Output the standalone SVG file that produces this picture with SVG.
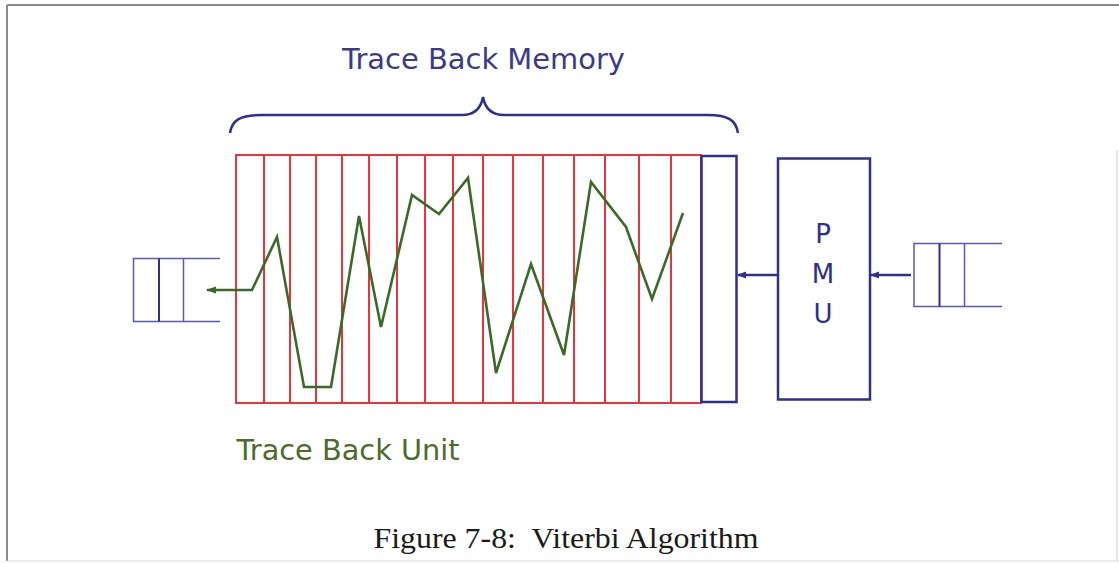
<svg xmlns="http://www.w3.org/2000/svg" width="1119" height="563" viewBox="0 0 1119 563">
  <defs>
    <marker id="ah-blue" markerWidth="9" markerHeight="8" refX="8" refY="4" orient="auto" markerUnits="userSpaceOnUse">
      <path d="M0,0.5 L9,4 L0,7.5 Z" fill="#2f2f8f"/>
    </marker>
    <marker id="ah-green" markerWidth="10" markerHeight="8" refX="9" refY="4" orient="auto" markerUnits="userSpaceOnUse">
      <path d="M0,0.5 L10,4 L0,7.5 Z" fill="#3a6a28"/>
    </marker>
    <style>
      .frame{fill:none;stroke:#8a8a8a;stroke-width:2}
      .red{fill:none;stroke:#e8353a;stroke-width:2}
      .blue{fill:none;stroke:#2f2f8f;stroke-width:2.5}
      .reg{fill:none;stroke:#5858b8;stroke-width:1.5}
      .regmid{fill:none;stroke:#2f2f8f;stroke-width:2}
      .trace{fill:none;stroke:#3a6a28;stroke-width:2.6;stroke-linejoin:miter}
      .conn{fill:none;stroke:#2f2f8f;stroke-width:2.5}
      .sans{font-family:"DejaVu Sans",Verdana,sans-serif}
      .serif{font-family:"Liberation Serif","Times New Roman",serif}
    </style>
  </defs>
  <rect width="1119" height="563" fill="#ffffff"/>
  <g id="frame">
    <line class="frame" x1="7" y1="5" x2="1119" y2="5"/>
    <line class="frame" x1="7" y1="5" x2="7" y2="561"/>
    <line x1="1117" y1="150" x2="1117" y2="561" stroke="#d0d0d0" stroke-width="1"/>
    <line x1="7" y1="561" x2="1119" y2="561" stroke="#d8d8d8" stroke-width="1"/>
  </g>

  <g id="title-memory">
    <path class="blue" stroke-width="2" d="M230,133 C232,120 240,115 262,115 L462,115 C475,115 481,108 483,97 C485,108 491,115 504,115 L708,115 C728,115 736,120 738,133"/>
    <text class="sans" x="483.5" y="68.5" font-size="27.5" fill="#3b3a8a" text-anchor="middle" textLength="283" lengthAdjust="spacingAndGlyphs">Trace Back Memory</text>
  </g>

  <g id="trace-back-unit">
    <rect class="red" x="236" y="155" width="465" height="248"/>
    <g class="red">
      <line x1="264" y1="155" x2="264" y2="403"/>
      <line x1="290" y1="155" x2="290" y2="403"/>
      <line x1="316" y1="155" x2="316" y2="403"/>
      <line x1="342" y1="155" x2="342" y2="403"/>
      <line x1="369" y1="155" x2="369" y2="403"/>
      <line x1="397" y1="155" x2="397" y2="403"/>
      <line x1="425" y1="155" x2="425" y2="403"/>
      <line x1="453" y1="155" x2="453" y2="403"/>
      <line x1="483" y1="155" x2="483" y2="403"/>
      <line x1="513" y1="155" x2="513" y2="403"/>
      <line x1="543" y1="155" x2="543" y2="403"/>
      <line x1="574" y1="155" x2="574" y2="403"/>
      <line x1="605" y1="155" x2="605" y2="403"/>
      <line x1="639" y1="155" x2="639" y2="403"/>
      <line x1="671" y1="155" x2="671" y2="403"/>
    </g>
    <text class="sans" x="236.5" y="460" font-size="27.5" fill="#4d6b2a" textLength="223" lengthAdjust="spacingAndGlyphs">Trace Back Unit</text>
  </g>

  <g id="memory-column">
    <rect class="blue" x="701.5" y="156" width="35" height="246"/>
  </g>

  <g id="pmu">
    <rect class="blue" x="778" y="158.5" width="92" height="241"/>
    <g class="sans" font-size="26" fill="#2f2f8f" text-anchor="middle">
      <text x="823" y="243">P</text>
      <text x="823" y="283">M</text>
      <text x="823" y="323">U</text>
    </g>
  </g>

  <g id="input-register">
    <path class="reg" d="M1002,243.5 L914,243.5 L914,306.5 L1002,306.5 M964.5,243.5 L964.5,306.5"/>
    <line class="regmid" x1="939.5" y1="243.5" x2="939.5" y2="306.5"/>
  </g>

  <g id="output-register">
    <path class="reg" d="M220,258.5 L133.5,258.5 L133.5,321.5 L220,321.5 M183.5,258.5 L183.5,321.5"/>
    <line class="regmid" x1="159" y1="258.5" x2="159" y2="321.5"/>
  </g>

  <g id="connectors">
    <polyline class="trace" marker-end="url(#ah-green)" points="683,213 652,299 626,227 591,182 564,355 531,264 496,373 468,178 439,214 412,195 381,327 359,216 331,387 304,387 277,237 252,290 207,290"/>
    <line class="conn" x1="777" y1="275" x2="738" y2="275" marker-end="url(#ah-blue)"/>
    <line class="conn" x1="911" y1="275" x2="871" y2="275" marker-end="url(#ah-blue)"/>
  </g>

  <g id="caption">
    <text class="serif" x="373.5" y="548" font-size="30" fill="#1a1a1a" textLength="385" lengthAdjust="spacingAndGlyphs" xml:space="preserve">Figure 7-8:  Viterbi Algorithm</text>
  </g>
</svg>
